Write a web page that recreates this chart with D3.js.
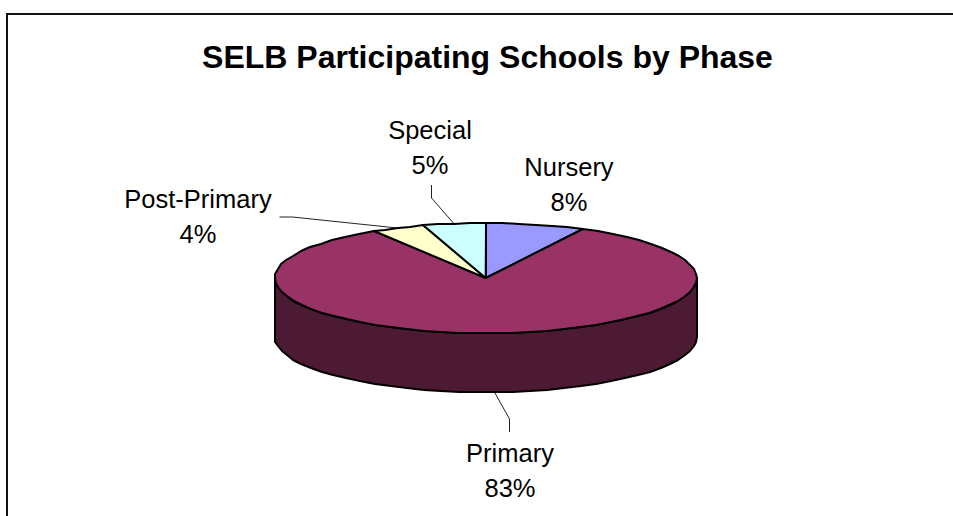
<!DOCTYPE html>
<html>
<head>
<meta charset="utf-8">
<script src="https://cdn.jsdelivr.net/npm/d3@7"></script>
<style>
  html, body { margin: 0; padding: 0; background: #fff; }
  text { font-family: "Liberation Sans", Arial, sans-serif; fill: #000; }
</style>
</head>
<body>
<div id="chart"></div>
<script>
var categories = ['Nursery', 'Primary', 'Post-Primary', 'Special'];
var shares = [7.6, 83.49, 4.1, 4.81];
var topColors = ['#9999ff', '#993366', '#ffffcc', '#ccffff'];

var width = 953, height = 516;
var cx = 485.7, cy = 278, rx = 211, ry = 55, depth = 59;

var svg = d3.select("#chart").append("svg")
  .attr("width", width)
  .attr("height", height)
  .style("display", "block");

// chart frame, only top and left show in the crop
svg.append("path")
  .attr("d", "M7,516V14H953")
  .attr("fill", "none")
  .attr("stroke", "#111")
  .attr("stroke-width", 2);

svg.append("text")
  .attr("x", 487.5)
  .attr("y", 68)
  .attr("text-anchor", "middle")
  .style("font-size", "32px")
  .style("font-weight", "bold")
  .text("SELB Participating Schools by Phase");

var pie = d3.pie().sort(null).value(function(d) { return d; });
var total = d3.sum(shares);
var arcs = pie(shares);

// tilted pie: angle 0 is up, going clockwise
function ex(a) { return cx + rx * Math.sin(a); }
function ey(a) { return cy - ry * Math.cos(a); }

// the original outline is a rough polygon, keep it on whole pixels
function rim(a0, a1, dy) {
  var n = Math.max(1, Math.ceil((a1 - a0) / 0.085)), pts = [];
  for (var i = 0; i <= n; i++) {
    var a = a0 + (a1 - a0) * i / n;
    pts.push([Math.round(ex(a)), Math.round(ey(a) + dy)]);
  }
  return pts;
}

var line = d3.line();

// labels + leader lines
var labelPos = {
  'Nursery': { x: 569, y: 176, leader: null },
  'Primary': { x: 510, y: 461.5, leader: [[15, 27], [15, 40]], side: true },
  'Post-Primary': { x: 198, y: 208, leader: [[-106, -11], [-119, -11]] },
  'Special': { x: 430, y: 138.5, leader: [[-23, -26], [-23, -39]] }
};

arcs.forEach(function(d, i) {
  var p = labelPos[categories[i]];
  if (!p.leader) return;
  var mid = (d.startAngle + d.endAngle) / 2;
  var x0 = ex(mid), y0 = ey(mid) + (p.side ? depth : 0);
  var pts = [[x0, y0]].concat(p.leader.map(function(o) { return [Math.round(x0) + o[0] + 0.5, Math.round(y0) + o[1]]; }));
  svg.append("path")
    .attr("d", line(pts))
    .attr("fill", "none")
    .attr("stroke", "#222")
    .attr("stroke-width", 1);
});

// side wall
var front = rim(Math.PI / 2, Math.PI * 1.5, 0);
var back = rim(Math.PI / 2, Math.PI * 1.5, depth).reverse();
svg.append("path")
  .attr("d", line(front.concat(back)) + "Z")
  .attr("fill", "#4d1a33")
  .attr("stroke", "#000")
  .attr("stroke-width", 2)
  .attr("stroke-linejoin", "round");

// top slices
svg.selectAll(".slice")
  .data(arcs)
  .enter().append("path")
  .attr("class", "slice")
  .attr("d", function(d) {
    return line([[cx, cy]].concat(rim(d.startAngle, d.endAngle, 0))) + "Z";
  })
  .attr("fill", function(d, i) { return topColors[i]; })
  .attr("stroke", "#000")
  .attr("stroke-width", 2)
  .attr("stroke-linejoin", "round");

var pct = d3.format(".0%");
var labels = svg.selectAll(".label")
  .data(arcs)
  .enter().append("text")
  .attr("class", "label")
  .attr("text-anchor", "middle")
  .style("font-size", "25.5px");

labels.append("tspan")
  .attr("x", function(d, i) { return labelPos[categories[i]].x; })
  .attr("y", function(d, i) { return labelPos[categories[i]].y; })
  .text(function(d, i) { return categories[i]; });

labels.append("tspan")
  .attr("x", function(d, i) { return labelPos[categories[i]].x; })
  .attr("y", function(d, i) { return labelPos[categories[i]].y + 35; })
  .text(function(d) { return pct(d.value / total); });
</script>
</body>
</html>
